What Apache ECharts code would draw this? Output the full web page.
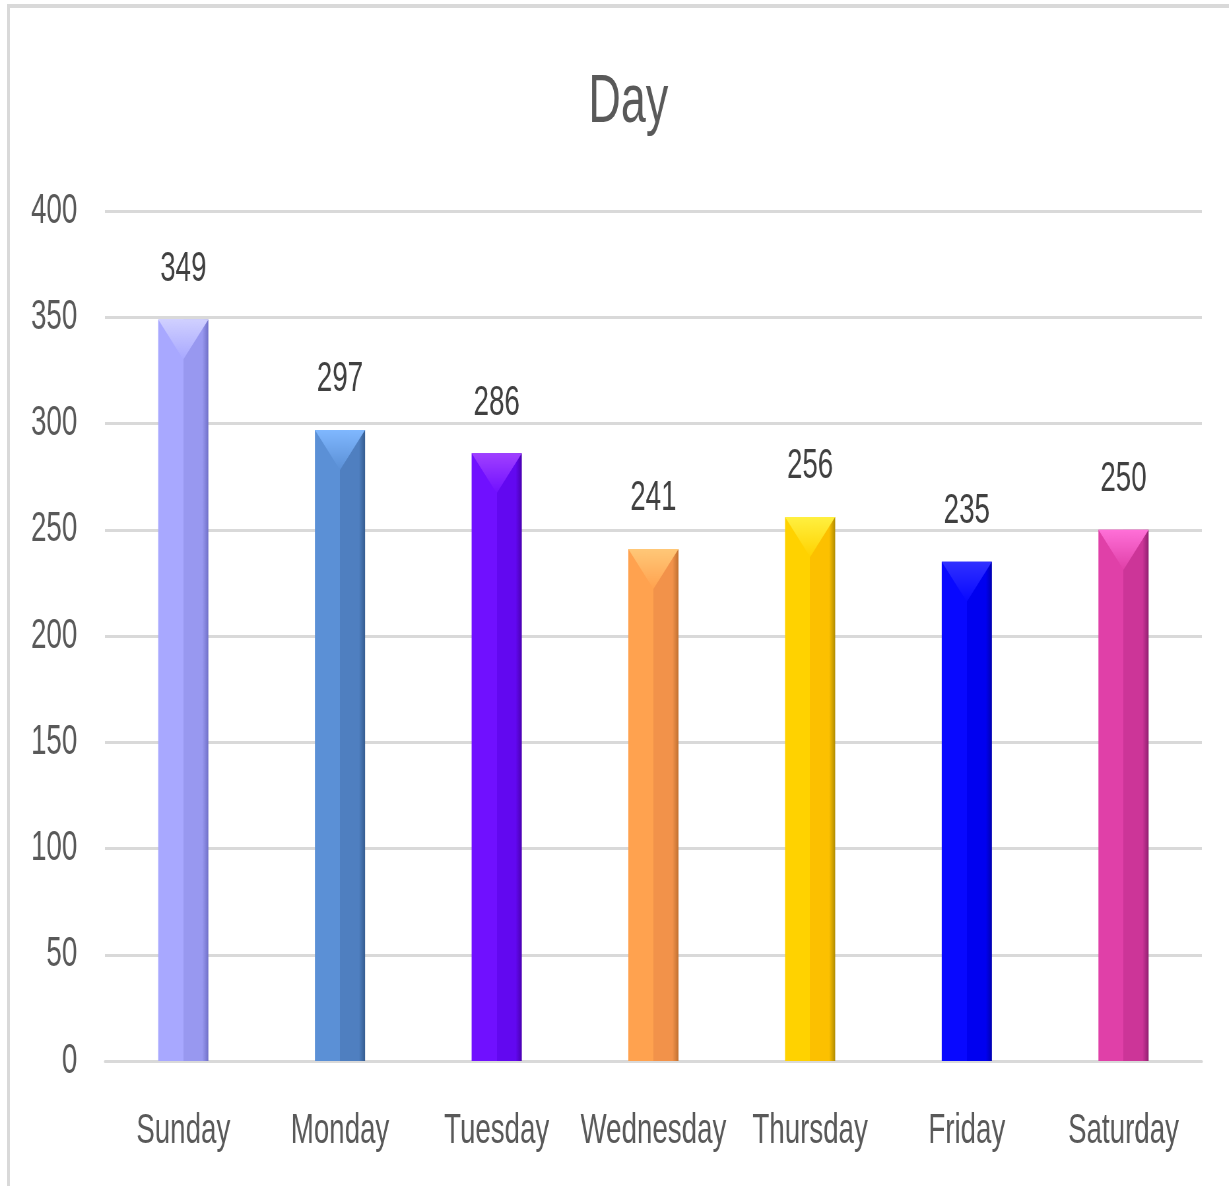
<html>
<head>
  <script src="https://cdnjs.cloudflare.com/ajax/libs/echarts/6.0.0/echarts.min.js"></script>
  <title>Day</title>
</head>
<body style="margin: 0; overflow: hidden; background: #fff;">
  <div id="frame" style="position: absolute; left: 7px; top: 4px; width: 1222px; height: 1182px; border-left: 3px solid #d9d9d9; border-top: 4px solid #d9d9d9;"></div>
  <!-- drawn wide, then squeezed horizontally to get the narrow lettering of the original -->
  <div id="main" style="position: absolute; left: 0; top: 0; width: 1862px; height: 1186px; transform: scaleX(0.66); transform-origin: 0 0;"></div>
  <script>
    var days = ['Sunday', 'Monday', 'Tuesday', 'Wednesday', 'Thursday', 'Friday', 'Saturday'];
    var counts = [349, 297, 286, 241, 256, 235, 250];
    var lightColors = ['#a8a8ff', '#5b90d6', '#7010ff', '#ffa24f', '#ffd200', '#0808ff', '#e040a8'];
    var midColors = ['#9898f0', '#4f7fc0', '#6208f0', '#f2924a', '#fcc000', '#0000f0', '#cc3598'];
    var edgeColors = ['#7070c8', '#355c90', '#4a00b0', '#c07030', '#b08c00', '#0000b0', '#902070'];
    var topColors = ['#d0d0ff', '#80b8ff', '#a040ff', '#ffc878', '#fff040', '#3030ff', '#ff70d8'];
    var yTicks = [0, 50, 100, 150, 200, 250, 300, 350, 400];

    var font = '"Liberation Sans", Arial, sans-serif';
    var chart = echarts.init(document.getElementById('main'));

    var barData = counts.map(function (v, i) {
      return {
        value: v,
        itemStyle: {
          color: {
            type: 'linear', x: 0, y: 0, x2: 1, y2: 0,
            colorStops: [
              { offset: 0, color: lightColors[i] },
              { offset: 0.5, color: lightColors[i] },
              { offset: 0.5, color: midColors[i] },
              { offset: 0.88, color: midColors[i] },
              { offset: 1, color: edgeColors[i] }
            ]
          }
        }
      };
    });

    var option = {
      animation: false,
      title: {
        text: 'Day',
        left: 947,
        textAlign: 'center',
        top: 40,
        textStyle: { fontFamily: font, fontSize: 68, fontWeight: 'normal', color: '#595959' }
      },
      grid: { left: 159, right: 41, top: 211, bottom: 125 },
      xAxis: {
        type: 'category',
        data: days,
        axisLine: { lineStyle: { color: '#d9d9d9', width: 3 } },
        axisTick: { show: false },
        axisLabel: { interval: 0, margin: 34, fontFamily: font, fontSize: 42, color: '#595959' }
      },
      yAxis: {
        type: 'value',
        min: yTicks[0],
        max: yTicks[yTicks.length - 1],
        interval: 50,
        axisLine: { show: false },
        axisTick: { show: false },
        splitLine: { lineStyle: { color: '#d9d9d9', width: 3 } },
        axisLabel: { margin: 42, fontFamily: font, fontSize: 42, color: '#595959' }
      },
      series: [
        {
          type: 'bar',
          data: barData,
          barWidth: 76,
          label: {
            show: true,
            position: 'top',
            distance: 14,
            fontFamily: font,
            fontSize: 42,
            color: '#404040'
          },
          z: 2
        },
        {
          // bevel triangle at the top of each bar
          type: 'custom',
          data: counts.map(function (v, i) { return [i, v]; }),
          renderItem: function (params, api) {
            var i = api.value(0);
            var top = api.coord([i, api.value(1)]);
            var half = 38;
            return {
              type: 'polygon',
              shape: { points: [[top[0] - half, top[1]], [top[0] + half, top[1]], [top[0], top[1] + 40]] },
              style: {
                fill: {
                  type: 'linear', x: 0, y: 0, x2: 0, y2: 1,
                  colorStops: [
                    { offset: 0, color: topColors[i] },
                    { offset: 1, color: lightColors[i] }
                  ]
                }
              }
            };
          },
          z: 3,
          silent: true
        }
      ]
    };
    chart.setOption(option);
  </script>
</body>
</html>
